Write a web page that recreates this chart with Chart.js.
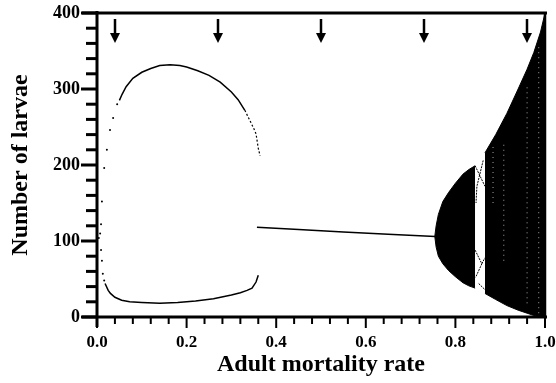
<!DOCTYPE html>
<html>
<head>
<meta charset="utf-8">
<script src="https://cdn.jsdelivr.net/npm/chart.js@4.4.0/dist/chart.umd.min.js"></script>
<style>
  html, body { margin: 0; padding: 0; background: #fff; }
  #wrap { width: 556px; height: 383px; }
</style>
</head>
<body>
<div id="wrap"><canvas id="chart"></canvas></div>
<script>
// 2-cycle, upper branch (sparse start, solid middle, sparse end)
const upperDotsX = [0.004, 0.007, 0.009, 0.011, 0.016, 0.022, 0.029, 0.036, 0.045];
const upperDotsY = [104, 110, 122, 152, 196, 220, 246, 262, 280];
const upperX = [0.05, 0.056, 0.065, 0.08, 0.1, 0.12, 0.14, 0.163, 0.185, 0.2, 0.225, 0.25, 0.275, 0.3, 0.315, 0.33];
const upperY = [285, 293, 303, 314, 322, 327, 331, 332, 331, 329, 324, 318, 309, 296, 286, 272];
const upperEndX = [0.33, 0.34, 0.35, 0.355, 0.36, 0.364];
const upperEndY = [272, 260, 248, 241, 222, 212];

// 2-cycle, lower branch
const lowerDotsX = [0.009, 0.011, 0.013, 0.016];
const lowerDotsY = [88, 74, 57, 48];
const lowerX = [0.018, 0.025, 0.03, 0.04, 0.055, 0.073, 0.1, 0.14, 0.18, 0.22, 0.26, 0.3, 0.32, 0.335, 0.346, 0.355, 0.36];
const lowerY = [44, 35, 31, 26, 22, 20, 19, 18, 19, 21, 24, 29, 32, 35, 38, 46, 55];

// stable equilibrium
const fixedX = [0.357, 0.45, 0.55, 0.65, 0.755];
const fixedY = [118, 115, 112, 109, 106];

// first chaotic band
const band1X = [0.754, 0.757, 0.762, 0.772, 0.785, 0.8, 0.817, 0.83, 0.844];
const band1Top = [106, 120, 135, 152, 164, 176, 188, 194, 199];
const band1Bottom = [106, 92, 80, 70, 61, 53, 45, 41, 38];

// periodic window lines (null = break)
const windowX = [0.844, 0.866, null, 0.862, 0.848, 0.846, null, 0.844, 0.859, 0.845, null, 0.859, 0.866, null, 0.852, 0.866];
const windowY = [199, 172, null, 206, 172, 150, null, 88, 70, 52, null, 70, 78, null, 44, 36];

// second chaotic band
const band2X = [0.866, 0.89, 0.915, 0.94, 0.96, 0.975, 0.99, 1.0];
const band2Top = [216, 240, 268, 300, 326, 348, 375, 400];
const band2Bottom = [31, 23, 15, 9, 5, 2, 0, 0];

// light streaks inside the second band
const streakX = [0.96, 0.96, null, 0.986, 0.986, null, 0.908, 0.908, null, 0.884, 0.884];
const streakY = [18, 305, null, 5, 357, null, 74, 227, null, 150, 225];

// arrows along the top
const arrowX = [0.04, 0.27, 0.5, 0.73, 0.96];

const pts = (xs, ys) => xs.map((v, i) => ({ x: v, y: ys[i] }));

const serif = "'Liberation Serif', 'Times New Roman', serif";

const frame = {
  id: 'frame',
  afterDatasetsDraw(chart) {
    const { ctx, chartArea: a, scales: { x, y } } = chart;
    const line = (x1, y1, x2, y2) => {
      ctx.beginPath(); ctx.moveTo(x1, y1); ctx.lineTo(x2, y2); ctx.stroke();
    };
    ctx.save();
    ctx.strokeStyle = '#000';
    ctx.fillStyle = '#000';
    ctx.lineWidth = 2;
    for (let k = 0; k <= 25; k++) {
      const px = x.getPixelForValue(k * 0.04);
      line(px, a.bottom, px, a.bottom + (k % 5 === 0 ? 11 : 7));
    }
    ctx.lineWidth = 3;
    for (let k = 0; k <= 20; k++) {
      const py = y.getPixelForValue(k * 20);
      line(a.left, py, a.left - (k % 5 === 0 ? 16 : 11), py);
    }
    // frame
    line(a.left, a.top - 2, a.left, a.bottom + 10);
    line(82, a.bottom, a.right + 2, a.bottom);
    line(82, a.top, a.right + 2, a.top);
    ctx.lineWidth = 2.5;
    line(a.right, a.top, a.right, a.bottom);
    // arrows
    for (const v of arrowX) {
      const px = Math.round(x.getPixelForValue(v));
      ctx.lineWidth = 2.5;
      line(px, a.top + 6, px, a.top + 22);
      ctx.beginPath();
      ctx.moveTo(px - 5, a.top + 20);
      ctx.lineTo(px + 5, a.top + 20);
      ctx.lineTo(px, a.top + 30);
      ctx.closePath();
      ctx.fill();
    }
    ctx.restore();
  }
};

const lineSet = (data, extra) => Object.assign({
  data, showLine: true, pointRadius: 0, borderColor: '#000', borderWidth: 1.5, fill: false
}, extra);

// datasets are painted from last to first, so the filled bands sit at the end
new Chart(document.getElementById('chart'), {
  type: 'scatter',
  data: {
    datasets: [
      { data: pts(upperDotsX, upperDotsY), pointRadius: 1, backgroundColor: '#000', borderWidth: 0 },
      { data: pts(lowerDotsX, lowerDotsY), pointRadius: 1, backgroundColor: '#000', borderWidth: 0 },
      lineSet(pts(upperX, upperY)),
      lineSet(pts(upperEndX, upperEndY), { borderWidth: 1.2, borderDash: [2, 2] }),
      lineSet(pts(lowerX, lowerY)),
      lineSet(pts(fixedX, fixedY)),
      lineSet(pts(windowX, windowY), { borderWidth: 1, borderDash: [2, 1] }),
      lineSet(pts(streakX, streakY), { borderColor: 'rgba(255,255,255,0.8)', borderWidth: 0.8, borderDash: [1, 4] }),
      lineSet(pts(band2X, band2Top), { backgroundColor: '#000', fill: '+1', borderWidth: 1 }),
      lineSet(pts(band2X, band2Bottom), { borderWidth: 1 }),
      lineSet(pts(band1X, band1Top), { backgroundColor: '#000', fill: '+1', borderWidth: 1 }),
      lineSet(pts(band1X, band1Bottom), { borderWidth: 1 })
    ]
  },
  options: {
    responsive: true,
    maintainAspectRatio: false,
    animation: false,
    events: [],
    layout: { padding: { left: 0, top: 13, right: 11, bottom: 0 } },
    plugins: { legend: { display: false }, tooltip: { enabled: false } },
    scales: {
      x: {
        type: 'linear', min: 0, max: 1,
        grid: { display: false, drawTicks: false },
        border: { display: false },
        ticks: {
          stepSize: 0.2, padding: 15, color: '#000',
          font: { family: serif, size: 17, weight: 'bold' },
          callback: v => v.toFixed(1)
        },
        title: {
          display: true, text: 'Adult mortality rate', color: '#000',
          font: { family: serif, size: 24, weight: 'bold' },
          padding: { top: 0, bottom: 4 }
        },
        afterFit: s => { s.height = 66; s.paddingLeft = 0; s.paddingRight = 0; }
      },
      y: {
        type: 'linear', min: 0, max: 400,
        grid: { display: false, drawTicks: false },
        border: { display: false },
        ticks: {
          stepSize: 100, padding: 17, color: '#000',
          font: { family: serif, size: 18, weight: 'bold' }
        },
        title: {
          display: true, text: 'Number of larvae', color: '#000',
          font: { family: serif, size: 24, weight: 'bold' },
          padding: { top: 6, bottom: 0 }
        },
        afterFit: s => { s.width = 97; s.paddingTop = 0; s.paddingBottom = 0; }
      }
    }
  },
  plugins: [frame]
});
</script>
</body>
</html>
